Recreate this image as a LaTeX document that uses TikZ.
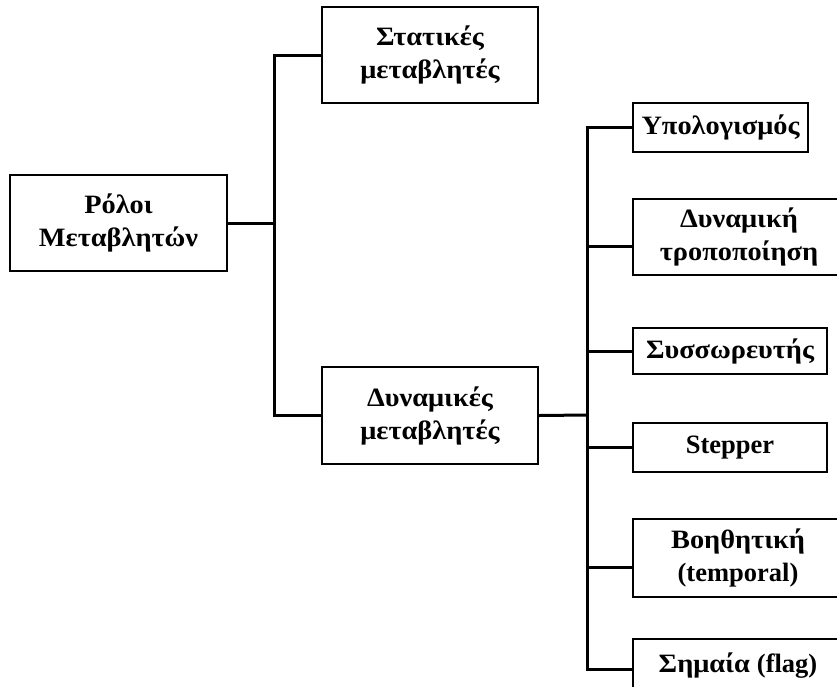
\documentclass[tikz,border=0pt]{standalone}
\usepackage{fontspec}
\setmainfont[FakeStretch=1.07]{Liberation Serif}
\newfontfamily\latinfont{Liberation Serif}
\usepackage{tikz}
\usetikzlibrary{positioning}

\begin{document}
\begin{tikzpicture}[x=1pt, y=-1pt,
  rolebox/.style={draw, line width=1.8pt, align=center, inner sep=1pt,
                  font=\fontsize{26.5}{33}\selectfont\bfseries},
  link/.style={line width=3pt},
  ]
  \useasboundingbox (0,0) rectangle (837,686);

  \node[rolebox, minimum width=217pt, minimum height=96pt] (root) at (118.5,223) {Ρόλοι\\Μεταβλητών};
  \node[rolebox, minimum width=216pt, minimum height=96pt] (stat) at (430,55) {Στατικές\\μεταβλητές};
  \node[rolebox, minimum width=216pt, minimum height=97pt] (dyn) at (430,415.5) {Δυναμικές\\μεταβλητές};

  \node[rolebox, minimum width=175pt, minimum height=49pt] (calc) at (720.5,127.5) {Υπολογισμός};
  \node[rolebox, minimum width=212pt, minimum height=76pt] (dmod) at (739,237) {Δυναμική\\τροποποίηση};
  \node[rolebox, minimum width=194pt, minimum height=46pt] (accu) at (730,351) {Συσσωρευτής};
  \node[rolebox, minimum width=194pt, minimum height=49pt] (stepr) at (730,447.5) {\latinfont Stepper};
  \node[rolebox, minimum width=210pt, minimum height=78pt] (temp) at (738,558) {Βοηθητική\\{\latinfont (temporal)}};
  \node[rolebox, minimum width=210pt, minimum height=54pt] (flag) at (738,666) {Σημαία {\latinfont (flag)}};

  % junctions of the two trees
  \coordinate (j1) at (274,223);
  \coordinate (j2) at (587,415);

  \draw[link] (root.east) -- (j1);
  \draw[link] (stat.west) -| (j1) |- (dyn.west);

  \draw[link] (dyn.east) -- (j2);
  \draw[link] (calc.west) -| (j2) |- ([yshift=-3pt]flag.west);
  \draw[link] (j2) |- ([yshift=-9pt]dmod.west);
  \draw[link] (j2) |- (accu.west);
  \draw[link] (j2) |- (stepr.west);
  \draw[link] (j2) |- ([yshift=-9pt]temp.west);
\end{tikzpicture}
\end{document}
